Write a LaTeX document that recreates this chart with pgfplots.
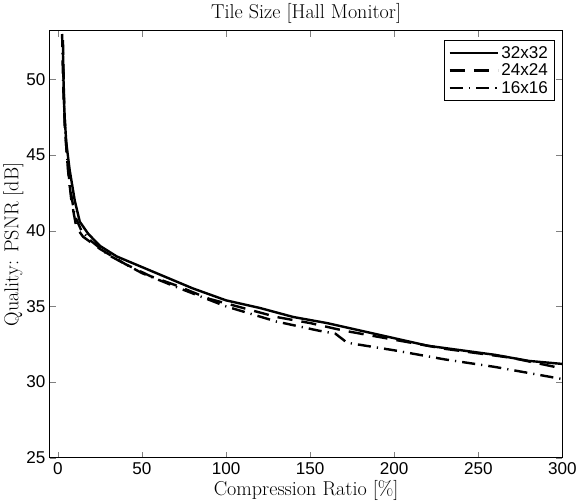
\documentclass[border=0pt]{standalone}
\usepackage{fontspec}
\usepackage{pgfplots}
\pgfplotsset{compat=1.18}
\newfontfamily\ticfont{Liberation Sans}
\begin{document}
\begin{tikzpicture}
\begin{axis}[
  scale only axis,
  width=508bp, height=423bp,
  xmin=-4.8, xmax=300, ymin=25, ymax=53.2,
  xtick={0,50,100,150,200,250,300},
  ytick={25,30,35,40,45,50},
  tick align=inside,
  major tick length=6bp,
  /pgf/number format/assume math mode=true,
  tick label style={font=\ticfont\fontsize{17}{20}\selectfont},
  xticklabel style={yshift=-1bp},
  yticklabel style={xshift=-1bp},
  title={Tile Size [Hall Monitor]},
  title style={font=\fontsize{20}{24}\selectfont, yshift=-2bp},
  xlabel={Compression Ratio [\%]},
  ylabel={Quality: PSNR [dB]},
  label style={font=\fontsize{20}{24}\selectfont},
  xlabel style={yshift=1bp},
  ylabel style={yshift=-4bp},
  axis line style={line width=1pt},
  legend style={at={(0.984,0.979)}, anchor=north east, font=\ticfont\fontsize{17}{20}\selectfont, draw=black, inner sep=4bp, row sep=0bp},
  legend cell align=left,
  legend image code/.code={\draw[#1, line width=2.4pt] (0bp,0bp) -- (48bp,0bp);},
]
\addplot[black, line width=2.4pt] coordinates {
(3,51.8) (3.5,49) (4,47.5) (5,45.8) (7,44) (10,42) (13,40.6) (18,39.8) (25,39.0) (35,38.3) (50,37.6) (65,36.9) (80,36.2) (100,35.4) (120,34.9) (140,34.3) (160,33.9) (180,33.4) (200,32.9) (220,32.4) (240,32.1) (260,31.8) (280,31.4) (300,31.2)
};
\addlegendentry{32x32}
\addplot[black, line width=2.4pt, dash pattern=on 15bp off 9bp] coordinates {
(3,52.6) (3.5,49.5) (4,47) (6,44) (8,42) (11,40.2) (15,39.6) (25,38.8) (40,37.8) (55,37.0) (70,36.4) (90,35.5) (110,34.9) (130,34.3) (150,33.9) (170,33.4) (190,33.0) (210,32.6) (230,32.2) (250,31.9) (270,31.6) (300,30.9)
};
\addlegendentry{24x24}
\addplot[black, line width=2.4pt, dash pattern=on 13bp off 6bp on 1.2bp off 6bp] coordinates {
(2.5,53) (3,50) (3.5,48.5) (5,45.5) (7,43) (10,41) (14,40) (20,39.3) (30,38.4) (50,37.2) (70,36.3) (100,35.0) (130,34.0) (155,33.4) (165,33.2) (172,32.6) (200,32.1) (230,31.5) (260,31.0) (300,30.2)
};
\addlegendentry{16x16}
\end{axis}
\end{tikzpicture}
\end{document}
